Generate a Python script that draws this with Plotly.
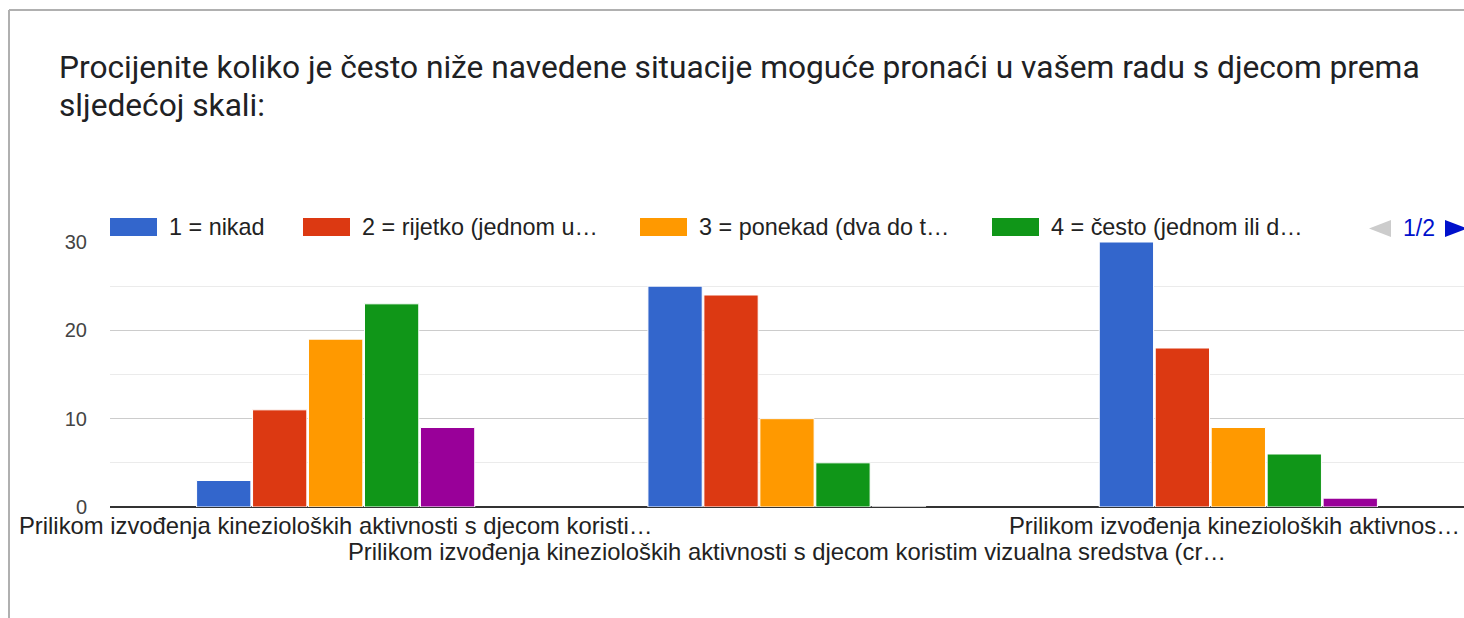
import plotly.graph_objects as go

categories = [
    "Prilikom izvođenja kinezioloških aktivnosti s djecom koristi…",
    "Prilikom izvođenja kinezioloških aktivnosti s djecom koristim vizualna sredstva (cr…",
    "Prilikom izvođenja kinezioloških aktivnos…",
]
series_names = [
    "1 = nikad",
    "2 = rijetko (jednom u…",
    "3 = ponekad (dva do t…",
    "4 = često (jednom ili d…",
    "5 = svakodnevno",
]
series_values = [
    [3, 25, 30],
    [11, 24, 18],
    [19, 10, 9],
    [23, 5, 6],
    [9, 0, 1],
]
colors = ["#3366cc", "#dc3912", "#ff9900", "#109618", "#990099"]
y_ticks = [0, 10, 20, 30]
title_lines = [
    "Procijenite koliko je često niže navedene situacije moguće pronaći u vašem radu s djecom prema",
    "sljedećoj skali:",
]
pager_text = "1/2"

W, H = 1464, 618
L, R, T, B = 110, 0, 242, 111
PW, PH = W - L - R, H - T - B
FONT = "Liberation Sans, Arial"


def px(x):
    return (x - L) / PW


def py(y):
    return (H - B - y) / PH


fig = go.Figure()
for name, vals, col in zip(series_names, series_values, colors):
    fig.add_trace(go.Bar(
        x=categories, y=vals, name=name,
        marker=dict(color=col, line=dict(color="white", width=1)),
        showlegend=False,
    ))

shapes = []
annotations = []

# frame of the card
shapes.append(dict(type="line", xref="paper", yref="paper", x0=px(9), x1=px(W + 5), y0=py(10), y1=py(10),
                   line=dict(color="#b0b0b0", width=2)))
shapes.append(dict(type="line", xref="paper", yref="paper", x0=px(9), x1=px(9), y0=py(10), y1=py(H + 5),
                   line=dict(color="#b0b0b0", width=2)))

# title
for line, yc in zip(title_lines, [68, 106]):
    annotations.append(dict(text=line, xref="paper", yref="paper", x=px(57), y=py(yc),
                            xanchor="left", yanchor="middle", showarrow=False,
                            font=dict(family="Roboto", size=31.7, color="#202124")))

# custom legend (page 1 of 2)
legend_x = [110, 303, 640, 992]
for name, col, lx in zip(series_names[:4], colors[:4], legend_x):
    shapes.append(dict(type="rect", xref="paper", yref="paper", x0=px(lx), x1=px(lx + 47),
                       y0=py(236), y1=py(218), fillcolor=col, line=dict(color=col, width=0)))
    annotations.append(dict(text=name, xref="paper", yref="paper", x=px(lx + 57), y=py(227),
                            xanchor="left", yanchor="middle", showarrow=False,
                            font=dict(family=FONT, size=23.4, color="#222222")))

# pager
shapes.append(dict(type="path", xref="paper", yref="paper",
                   path=f"M {px(1391)} {py(220)} L {px(1391)} {py(237)} L {px(1369)} {py(228.5)} Z",
                   fillcolor="#cccccc", line=dict(width=0)))
shapes.append(dict(type="path", xref="paper", yref="paper",
                   path=f"M {px(1445)} {py(220)} L {px(1445)} {py(237)} L {px(1467)} {py(228.5)} Z",
                   fillcolor="#0011cc", line=dict(width=0)))
annotations.append(dict(text=pager_text, xref="paper", yref="paper", x=px(1419), y=py(228),
                        xanchor="center", yanchor="middle", showarrow=False,
                        font=dict(family=FONT, size=23, color="#0011cc")))

# category labels, staggered on two rows
for i, cat in enumerate(categories):
    row_y = 551 if i == 1 else 525
    annotations.append(dict(text=cat, xref="x", yref="paper", x=cat, y=py(row_y),
                            xanchor="center", yanchor="middle", showarrow=False,
                            xshift=-4 if i == len(categories) - 1 else 0,
                            font=dict(family=FONT, size=23.8, color="#222222")))

fig.update_layout(
    width=W, height=H,
    margin=dict(l=L, r=R, t=T, b=B, autoexpand=False),
    paper_bgcolor="white", plot_bgcolor="white",
    barmode="group", bargap=0.38, bargroupgap=0.03,
    font=dict(family=FONT, size=23, color="#222222"),
    shapes=shapes, annotations=annotations,
    xaxis=dict(
        type="category", range=[-0.5, len(categories) - 0.5],
        showticklabels=False, automargin=False, showgrid=False,
        showline=False, ticks="",
    ),
    yaxis=dict(
        range=[0, 30], tickvals=y_ticks, automargin=False,
        showgrid=True, gridcolor="#cccccc", gridwidth=1,
        minor=dict(dtick=5, showgrid=True, gridcolor="#ebebeb", gridwidth=1),
        zeroline=True, zerolinecolor="#333333", zerolinewidth=2,
        showline=False, ticks="", ticklabelstandoff=22,
        tickfont=dict(size=20, color="#444444"),
    ),
)

fig.write_html(
    "out.html",
    config={"displayModeBar": False},
    post_script="document.body.style.margin='0';document.body.style.overflow='hidden';",
)
